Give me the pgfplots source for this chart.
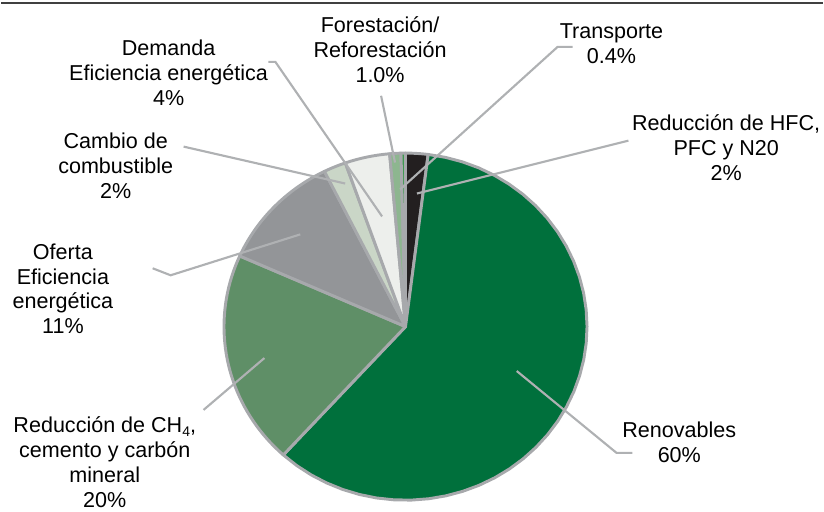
\documentclass[border=0pt]{standalone}
\usepackage{pgfplots}
\pgfplotsset{compat=1.18}
\usepackage{fontspec}
\setmainfont{Liberation Sans}
\definecolor{pieborder}{HTML}{A7A9AC}
\definecolor{leader}{HTML}{AFB1B3}
\definecolor{cHFC}{HTML}{231F20}
\definecolor{cRen}{HTML}{00703C}
\definecolor{cCH}{HTML}{5F8F67}
\definecolor{cOf}{HTML}{939598}
\definecolor{cCam}{HTML}{CAD6C7}
\definecolor{cDem}{HTML}{EDEFEC}
\definecolor{cFor}{HTML}{8DB68F}
\definecolor{cTra}{HTML}{3F9A50}
\tikzset{lbl/.style={font=\fontsize{16.2}{18.75}\selectfont, align=center, text=black, inner sep=0pt}}
% percentages (clockwise from top): HFC 2, Renovables 60, CH4 20, Oferta 11,
% Cambio 2, Demanda 4, Forestacion 1.0, Transporte 0.4 ; total 100.4
\def\ktot{(360/100.4)}
\newcommand{\pieslice}[3]{%
  \addplot[fill=#3, draw=pieborder, line width=2.2pt, line join=round,
    domain={90-\ktot*#2}:{90-\ktot*#1}, samples=40, variable=\t]
    ({405.5+182*cos(\t)},{185.5+174*sin(\t)}) -- (axis cs:405.5,185.5) -- cycle;
}
\begin{document}
\begin{tikzpicture}
\begin{axis}[
  scale only axis, width=618pt, height=384.75pt,
  xmin=0, xmax=824, ymin=0, ymax=513,
  hide axis, clip=false,
]
% cumulative percentages
\pieslice{0}{2}{cHFC}
\pieslice{2}{62}{cRen}
\pieslice{62}{82}{cCH}
\pieslice{82}{93}{cOf}
\pieslice{93}{95}{cCam}
\pieslice{95}{99}{cDem}
\pieslice{99}{100}{cFor}
\pieslice{100}{100.4}{cTra}
% leader lines
\addplot[leader, line width=1.6pt, no marks] coordinates {(268,451) (275,451) (382,296)};
\addplot[leader, line width=1.6pt, no marks] coordinates {(381,417) (395,350)};
\addplot[leader, line width=1.6pt, no marks] coordinates {(183,366) (345,329)};
\addplot[leader, line width=1.6pt, no marks] coordinates {(152,244) (170,237) (300,278)};
\addplot[leader, line width=1.6pt, no marks] coordinates {(573,466) (558,466) (400,323)};
\addplot[leader, line width=1.6pt, no marks] coordinates {(629,372) (417,319)};
\addplot[leader, line width=1.6pt, no marks] coordinates {(203,102) (264,154)};
\addplot[leader, line width=1.6pt, no marks] coordinates {(517,141) (617,59) (633,59)};
% top rule
\addplot[color=black!75, line width=1.6pt, no marks] coordinates {(0,510) (824,510)};
% labels
\node[lbl] at (axis cs:380,463) {Forestación/\\Reforestación\\1.0\%};
\node[lbl] at (axis cs:612,469) {Transporte\\0.4\%};
\node[lbl] at (axis cs:727,365) {Reducción de HFC,\\PFC y N20\\2\%};
\node[lbl] at (axis cs:168,440) {Demanda\\Eficiencia energética\\4\%};
\node[lbl] at (axis cs:115,347) {Cambio de\\combustible\\2\%};
\node[lbl] at (axis cs:62,223.5) {Oferta\\Eficiencia\\energética\\11\%};
\node[lbl] at (axis cs:104,50) {Reducción de CH\raisebox{-0.35ex}{\fontsize{10.5}{10.5}\selectfont 4},\\cemento y carbón\\mineral\\20\%};
\node[lbl] at (axis cs:680,70) {Renovables\\60\%};
\path (axis cs:0,0) rectangle (axis cs:824,513);
\end{axis}
\end{tikzpicture}
\end{document}
